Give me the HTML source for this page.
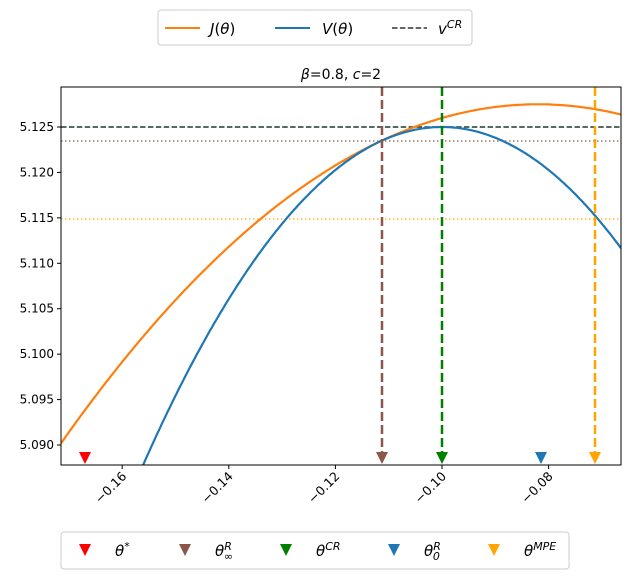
<!DOCTYPE html>
<html><head><meta charset="utf-8"><style>
html,body{margin:0;padding:0;background:#fff;width:630px;height:579px;overflow:hidden;}
svg{display:block;font-family:"DejaVu Sans","Liberation Sans",sans-serif;}
</style></head><body>
<svg id="s" width="630" height="579" xmlns="http://www.w3.org/2000/svg">
<rect width="630" height="579" fill="#fff"/>
<defs><clipPath id="c"><rect x="61" y="87" width="560" height="378"/></clipPath></defs>
<g id="plot" clip-path="url(#c)">
<line x1="61" y1="127" x2="621" y2="127" stroke="#1f3a2a" stroke-width="1.5" stroke-dasharray="5.5,2.4"/>
<line x1="61" y1="141" x2="621" y2="141" stroke="#8c564b" stroke-width="1.5" stroke-dasharray="1.5,2.5" opacity="0.8"/>
<line x1="61" y1="219" x2="621" y2="219" stroke="#ffa500" stroke-width="1.5" stroke-dasharray="1.5,2.5" opacity="0.8"/>
<path id="J" fill="none" stroke="#ff7f0e" stroke-width="2.2"/>
<path id="V" fill="none" stroke="#1f77b4" stroke-width="2.2"/>
<line x1="382" y1="87" x2="382" y2="458" stroke="#8c564b" stroke-width="2.5" stroke-dasharray="9,4"/>
<line x1="442" y1="87" x2="442" y2="458" stroke="#008000" stroke-width="2.5" stroke-dasharray="9,4"/>
<line x1="595" y1="87" x2="595" y2="458" stroke="#ffa500" stroke-width="2.5" stroke-dasharray="9,4"/>
<g id="mk"></g>
</g>
<rect x="61" y="87" width="560" height="378" fill="none" stroke="#000" stroke-width="1"/>
<g id="ax" font-size="12" fill="#000"></g>
<text x="341" y="79" font-size="14" text-anchor="middle"><tspan font-style="italic">β</tspan>=0.8, <tspan font-style="italic">c</tspan>=2</text>
<rect x="158" y="10" width="314" height="35" rx="3" fill="#fff" stroke="#ccc"/>
<line x1="165" y1="28" x2="200" y2="28" stroke="#ff7f0e" stroke-width="2"/>
<text x="210" y="34" font-size="15"><tspan font-style="italic">J</tspan>(<tspan font-style="italic">θ</tspan>)</text>
<line x1="275" y1="28" x2="310" y2="28" stroke="#1f77b4" stroke-width="2"/>
<text x="322" y="34" font-size="15"><tspan font-style="italic">V</tspan>(<tspan font-style="italic">θ</tspan>)</text>
<line x1="392" y1="28" x2="427" y2="28" stroke="#333" stroke-width="1.5" stroke-dasharray="5.5,2.4"/>
<text x="438" y="34" font-size="15" font-style="italic">v<tspan font-size="11" dy="-6">CR</tspan></text>
<rect x="61" y="532" width="508" height="37" rx="3" fill="#fff" stroke="#ccc"/>
<g id="lg" font-size="15" font-style="italic"></g>
</svg>
<script>
var X=function(t){return 442+(t+0.10)*5330;},Y=function(v){return 127-(v-5.125)*9086;};
var j="",w="";
for(var i=0;i<=300;i++){var t=-0.1715+i*(0.1051/300);
var vj=5.1275-4.66*Math.pow(t+0.082,2),vv=5.125-11.83*Math.pow(t+0.10,2);
j+=(i?"L":"M")+X(t).toFixed(1)+","+Y(vj).toFixed(1);w+=(i?"L":"M")+X(t).toFixed(1)+","+Y(vv).toFixed(1);}
document.getElementById("J").setAttribute("d",j);document.getElementById("V").setAttribute("d",w);
var ns="http://www.w3.org/2000/svg";
function tri(g,x,y,c){var p=document.createElementNS(ns,"path");p.setAttribute("d","M"+(x-6)+","+(y-6)+"L"+(x+6)+","+(y-6)+"L"+x+","+(y+6)+"Z");p.setAttribute("fill",c);g.appendChild(p);}
var mk=document.getElementById("mk");
[[85,"#ff0000"],[382,"#8c564b"],[442,"#008000"],[541,"#1f77b4"],[595,"#ffa500"]].forEach(function(m){tri(mk,m[0],458,m[1]);});
var ax=document.getElementById("ax"),h="";
for(var k=0;k<8;k++){var v=5.090+k*0.005,y=Y(v);h+='<line x1="57" y1="'+y+'" x2="61" y2="'+y+'" stroke="#000"/><text x="54" y="'+(y+4)+'" text-anchor="end">'+v.toFixed(3)+'</text>';}
[-0.16,-0.14,-0.12,-0.10,-0.08].forEach(function(t){var x=X(t);h+='<line x1="'+x+'" y1="465" x2="'+x+'" y2="469" stroke="#000"/><text transform="translate('+(x+5)+',477) rotate(-45)" text-anchor="end" font-size="12.5">−'+Math.abs(t).toFixed(2)+'</text>';});
ax.innerHTML=h;
var lg=document.getElementById("lg"),cols=[["#ff0000",85,'θ<tspan font-size="11" dy="-6">*</tspan>'],["#8c564b",185,'θ<tspan font-size="11" dy="-6">R</tspan><tspan font-size="11" dx="-8" dy="10">∞</tspan>'],["#008000",286,'θ<tspan font-size="11" dy="-6">CR</tspan>'],["#1f77b4",394,'θ<tspan font-size="11" dy="-6">R</tspan><tspan font-size="11" dx="-8" dy="10">0</tspan>'],["#ffa500",494,'θ<tspan font-size="11" dy="-6">MPE</tspan>']];
var s="";cols.forEach(function(c){s+='<text x="'+(c[1]+30)+'" y="556">'+c[2]+'</text>';});lg.innerHTML=s;
cols.forEach(function(c){tri(lg,c[1],550,c[0]);});
</script>
</body></html>
